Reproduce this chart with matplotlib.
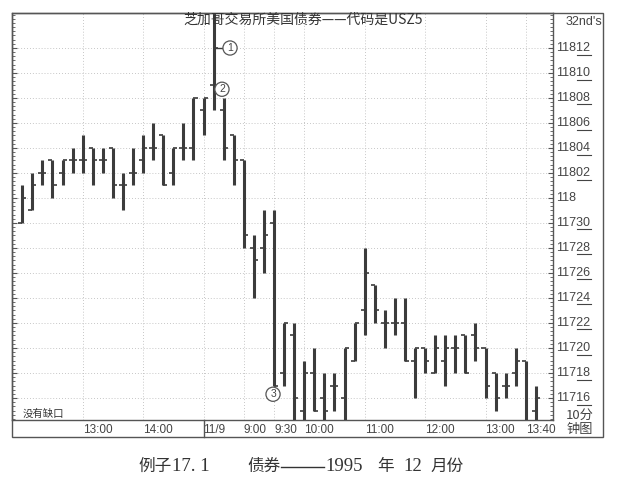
import matplotlib
matplotlib.use("Agg")
import matplotlib.pyplot as plt
import matplotlib.transforms as mtransforms
from matplotlib.patches import Rectangle
from matplotlib.lines import Line2D
from matplotlib.ticker import MultipleLocator

# 10-minute bars, prices in 32nds above 117 (e.g. 32 = 118, 44 = 118-12)
highs  = [33, 34, 35, 35, 35, 36, 37, 36, 36, 36, 34, 36, 37, 38, 37, 36, 38, 40, 40, 48,
          40, 37, 35, 29, 31, 31, 22, 22, 19, 20, 18, 18, 20, 22, 28, 25, 23, 24, 24, 20,
          20, 21, 21, 21, 21, 22, 20, 18, 18, 20, 19, 17]
lows   = [30, 31, 33, 32, 33, 34, 34, 33, 34, 32, 31, 33, 34, 35, 33, 33, 35, 35, 37, 39,
          35, 33, 28, 24, 26, 17, 17, 13, 13, 15, 13, 15, 13, 19, 21, 22, 20, 21, 19, 16,
          18, 18, 17, 18, 18, 19, 16, 15, 16, 17, 13, 13]
opens  = [30, 31, 34, 35, 34, 35, 35, 36, 35, 36, 33, 34, 35, 36, 37, 34, 36, 36, 39, 41,
          39, 37, 35, 28, 28, 30, 18, 21, 15, 18, 16, 17, 16, 19, 23, 25, 22, 22, 22, 19,
          20, 18, 19, 20, 21, 21, 20, 18, 17, 18, 19, 15]
closes = [32, 33, 34, 33, 35, 35, 35, 35, 35, 33, 33, 34, 36, 36, 33, 36, 36, 40, 40, 44,
          36, 35, 29, 27, 29, 17, 22, 16, 18, 15, 15, 17, 20, 22, 26, 23, 22, 22, 19, 20,
          19, 20, 20, 20, 18, 20, 17, 16, 17, 19, 14, 16]

time_pos = [6, 12, 18, 22, 25, 28, 34, 40, 46, 50]
time_labels = ["13:00", "14:00", "11/9", "9:00", "9:30", "10:00", "11:00", "12:00", "13:00", "13:40"]
price_levels = list(range(16, 46, 2))

W, H = 639, 486
cjk = ["Noto Sans CJK SC", "DejaVu Sans"]
serif = ["Liberation Serif", "DejaVu Serif"]
plt.rcParams["font.family"] = ["Liberation Sans", "DejaVu Sans"]
ink = "#3c3c3c"


def fx(px):
    return px / W


def fy(py):
    return 1 - py / H


fig = plt.figure(figsize=(W / 100, H / 100), dpi=100)
ax = fig.add_axes([fx(12), fy(420), fx(553) - fx(12), fy(13) - fy(420)])
ax.set_xlim(-1.02, 52.7)
ax.set_ylim(14.24, 46.8)

# dotted grid
for v in price_levels:
    ax.axhline(v, ls=(0, (1, 2.5)), color="#b4b4b4", lw=0.6, zorder=1)
for p in time_pos:
    ax.axvline(p, ls=(0, (1, 2.5)), color="#b4b4b4", lw=0.6, zorder=1)

# bars
xs = list(range(len(highs)))
ax.vlines(xs, lows, highs, color=ink, lw=2.2, zorder=3)
ax.hlines(opens, [x - 0.4 for x in xs], xs, color=ink, lw=1.2, zorder=3)
ax.hlines(closes, xs, [x + 0.4 for x in xs], color=ink, lw=1.2, zorder=3)

# time labels
ax.set_xticks(time_pos)
ax.set_xticklabels(time_labels, ha="left")
ax.tick_params(axis="x", length=0, pad=3, labelsize=8.5, labelcolor="#444")

# y ticks on both edges, no labels
ax.set_yticks(price_levels)
ax.yaxis.set_minor_locator(MultipleLocator(1 / 3))
ax.tick_params(axis="y", which="both", direction="in", left=True, right=True,
               labelleft=False, color="#555")
ax.tick_params(axis="y", which="major", length=3.5, width=0.8)
ax.tick_params(axis="y", which="minor", length=2, width=0.6)
for s in ax.spines.values():
    s.set_color("#555")
    s.set_linewidth(1.0)

# price labels in the right strip
trans = mtransforms.blended_transform_factory(fig.transFigure, ax.transData)
for v in price_levels:
    if v == 32:
        txt = "118"
    elif v > 32:
        txt = "118%02d" % (v - 32)
    else:
        txt = "117%02d" % v
    ax.text(fx(556), v, txt, transform=trans, ha="left", va="center",
            fontsize=9, color="#444")
    if v != 32:
        ax.plot([fx(576.5), fx(590.5)], [v - 0.52, v - 0.52], transform=trans,
                color="#444", lw=0.8, clip_on=False)

# outer frame and the day separator in the time strip
fig.add_artist(Rectangle((fx(12), fy(437)), fx(603) - fx(12), fy(13) - fy(437),
                         transform=fig.transFigure, fill=False, ec="#555", lw=1.0))
sep = mtransforms.blended_transform_factory(ax.transData, fig.transFigure)
ax.plot([18, 18], [fy(420), fy(437)], transform=sep, color="#555", lw=1.0, clip_on=False)

# circled markers
circ = dict(boxstyle="circle,pad=0.2", fc="white", ec="#555", lw=0.9)
ax.plot([19, 19.9], [44, 44], color=ink, lw=1.0, zorder=3)
ax.text(20.63, 44, "1", ha="center", va="center", fontsize=7.5, color="#444", bbox=circ, zorder=4)
ax.text(19.83, 40.7, "2", ha="center", va="center", fontsize=7.5, color="#444", bbox=circ, zorder=4)
ax.text(24.9, 16.3, "3", ha="center", va="center", fontsize=7.5, color="#444", bbox=circ, zorder=4)

# texts
fig.text(fx(303), fy(20), "芝加哥交易所美国债券——代码是USZ5", ha="center", va="center",
         fontsize=10, family=cjk, fontweight="medium", color="#333", zorder=6)
fig.text(fx(23), fy(414), "没有缺口", ha="left", va="center", fontsize=7.5, family=cjk, color="#333")
fig.text(fx(602), fy(22), "32nd's", ha="right", va="center", fontsize=9, color="#444")
fig.text(fx(580), fy(415), "10分", ha="center", va="center", fontsize=9.5, family=cjk, color="#444")
fig.text(fx(580), fy(429), "钟图", ha="center", va="center", fontsize=9.5, family=cjk, color="#444")

# caption, placed piece by piece
caption = [(138, "例子", cjk), (172, "17. 1", serif), (247, "债券", cjk), (325, "1995", serif),
           (377, "年", cjk), (403, "12", serif), (430, "月份", cjk)]
for px, s, fam in caption:
    fig.text(fx(px), fy(466), s, ha="left", va="center", fontsize=12 if fam is cjk else 13.5,
             family=fam, color="#333")
fig.add_artist(Line2D([fx(281), fx(324)], [fy(466.5), fy(466.5)], transform=fig.transFigure,
                      color="#333", lw=1.0))

fig.savefig("out.png", dpi=100, facecolor="white")
